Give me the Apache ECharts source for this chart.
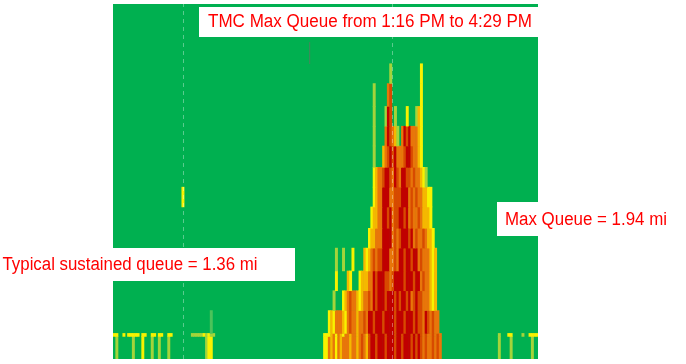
<!DOCTYPE html>
<html><head><meta charset="utf-8">
<script src="https://cdn.jsdelivr.net/npm/echarts/dist/echarts.min.js"></script>
<style>html,body{margin:0;padding:0;background:#fff}#c{width:686px;height:364px}</style>
</head><body><div id="c"></div>
<script>
// time axis in minutes after midnight (7:15 AM .. 7:15 PM), 4-minute bins
const timeStart = 435;
const timeEnd = 1155;
const binMinutes = 4;
// TMC segment boundaries (miles from the bottleneck)
const segmentBounds = [0, 0.15, 0.17, 0.32, 0.45, 0.58, 0.73, 0.86, 1.00, 1.13, 1.26, 1.40, 1.53, 1.66, 1.81, 1.94, 2.08, 2.21, 2.33];
// congestion level per time bin: [first bin, codes]; 1 slowest (red) .. 6 near free flow, 7 slight slowdown, 8 missing data
const seg00 = [[1,"6"],[8,"6"],[12,"5"],[16,"6"],[19,"6"],[23,"6"],[39,"655"],[89,"55"],[91,"3435343334"],[101,"3343234"],[108,"2112111211"],[118,"1211211121"],[128,"21"],[130,"232332323"],[163,"6"],[168,"6"],[177,"6"]];
const seg01 = [[0,"55"],[4,"5"],[6,"555"],[9,"55"],[12,"55"],[16,"55"],[19,"55"],[23,"55"],[33,"66666"],[38,"5656"],[42,"6"],[89,"55"],[91,"5435345334"],[101,"3343234"],[108,"2112111211"],[118,"1211211121"],[128,"21"],[130,"232332323"],[163,"6"],[167,"55"],[173,"6"],[176,"5555"]];
const seg02 = [[41,"7"],[91,"545"],[94,"333"],[97,"45"],[99,"323343323"],[108,"1121112111"],[118,"1211121112"],[128,"12"],[130,"2312323"],[137,"3"]];
const seg03 = [[93,"6"],[97,"54"],[99,"3233"],[103,"4543"],[107,"323"],[110,"1211121112"],[120,"1211213212"],[130,"23"],[132,"33454"]];
const seg04 = [[94,"5"],[99,"45"],[104,"5444"],[108,"33"],[110,"121112"],[116,"2321"],[120,"1112111211"],[130,"3233"],[134,"454"]];
const seg05 = [[94,"6"],[97,"6"],[101,"5"],[106,"454"],[109,"32322"],[114,"111"],[117,"3323"],[121,"11211211"],[129,"3233"],[133,"3454"]];
const seg06 = [[108,"54"],[110,"4333"],[114,"1111"],[118,"323"],[121,"211121"],[127,"32332"],[132,"34"],[134,"45"]];
const seg07 = [[109,"544"],[112,"33"],[114,"1121"],[118,"32"],[120,"2112"],[124,"1323"],[128,"3234"],[132,"445"]];
const seg08 = [[29,"5"],[110,"54"],[112,"33"],[114,"111"],[117,"33"],[119,"222"],[122,"111"],[125,"32323"],[130,"34"],[132,"455"]];
const seg09 = [[110,"5433"],[114,"2112312"],[121,"3112232"],[128,"3345"],[132,"6"]];
const seg10 = [[110,"6"],[114,"4321213"],[121,"3321123"],[128,"345"]];
const seg11 = [[110,"6"],[115,"312346"],[122,"31213"],[127,"3345"]];
const seg12 = [[110,"6"],[115,"612"],[119,"6"],[124,"5"],[128,"6"],[129,"45"]];
const seg13 = [[110,"6"],[116,"32"],[130,"5"]];
const seg14 = [[117,"6"],[130,"5"]];
const seg15 = [[83,"8"]];
const seg16 = [];
const seg17 = [];
const levelColors = ['#C00000', '#D84A00', '#E8760A', '#F5B800', '#F8F200', '#A4D43A', '#4CC35A', '#3E8A5A'];
const dashedTimes = [554, 908];
const titleText = 'TMC Max Queue from 1:16 PM to 4:29 PM';
const maxQueueText = 'Max Queue = 1.94 mi';
const typicalText = 'Typical sustained queue = 1.36 mi';

const segments = [seg00, seg01, seg02, seg03, seg04, seg05, seg06, seg07, seg08, seg09, seg10, seg11, seg12, seg13, seg14, seg15, seg16, seg17];
const cells = [];
segments.forEach((runs, r) => {
  runs.forEach(([start, codes]) => {
    for (let k = 0; k < codes.length; k++) {
      const c = codes[k];
      if (c === '.') continue;
      const j = start + k;
      cells.push([timeStart + j * binMinutes, timeStart + (j + 1) * binMinutes, segmentBounds[r], segmentBounds[r + 1], +c]);
    }
  });
});
const yMax = segmentBounds[segmentBounds.length - 1];

const FONT = "18px 'Liberation Sans', Arial, sans-serif";
const mctx = document.createElement('canvas').getContext('2d');
mctx.font = FONT;
function fit(text, target) { return target / mctx.measureText(text).width; }

function label(text, cx, cy, targetWidth, align) {
  return {type: 'text', x: cx, y: cy, scaleX: fit(text, targetWidth), z: 101,
    style: {text: text, fill: '#FF0000', font: FONT, textAlign: align, textVerticalAlign: 'middle'}};
}

const chart = echarts.init(document.getElementById('c'), null, {renderer: 'canvas'});
chart.setOption({
  animation: false,
  backgroundColor: '#ffffff',
  grid: {left: 113, top: 4, width: 425, height: 355, show: true, backgroundColor: '#00B050', borderWidth: 0},
  xAxis: {type: 'value', min: timeStart, max: timeEnd, show: false},
  yAxis: {type: 'value', min: 0, max: yMax, show: false},
  visualMap: {
    type: 'piecewise', show: false, dimension: 4, seriesIndex: 0,
    pieces: levelColors.map((col, i) => ({value: i + 1, color: col}))
  },
  series: [
    {
      type: 'custom', clip: true, data: cells,
      encode: {x: [0, 1], y: [2, 3]},
      renderItem: function (params, api) {
        const p0 = api.coord([api.value(0), api.value(3)]);
        const p1 = api.coord([api.value(1), api.value(2)]);
        const narrow = api.value(4) === 8;
        const w = narrow ? 1.2 : p1[0] - p0[0] + 0.6;
        return {type: 'rect', shape: {x: p0[0], y: p0[1], width: w, height: p1[1] - p0[1] + 0.6},
          style: {fill: api.visual('color')}};
      }
    },
    {
      type: 'custom', clip: true, data: dashedTimes.map(t => [t]),
      encode: {x: 0},
      renderItem: function (params, api) {
        const a = api.coord([api.value(0), 0]);
        const b = api.coord([api.value(0), yMax]);
        const x = Math.round(a[0]) + 0.5;
        return {type: 'line', shape: {x1: x, y1: a[1], x2: x, y2: b[1]},
          style: {stroke: 'rgba(255,255,255,0.35)', lineWidth: 1, lineDash: [4, 4]}};
      }
    }
  ],
  graphic: [
    {type: 'rect', left: 199, top: 7, shape: {width: 339, height: 30}, style: {fill: '#ffffff'}, z: 100},
    label(titleText, 370, 22, 324, 'center'),
    {type: 'rect', left: 497, top: 202, shape: {width: 189, height: 34}, style: {fill: '#ffffff'}, z: 100},
    label(maxQueueText, 586, 220, 162, 'center'),
    {type: 'rect', left: 0, top: 248, shape: {width: 295, height: 33}, style: {fill: '#ffffff'}, z: 100},
    label(typicalText, 130, 265, 255, 'center')
  ]
});
</script>
</body></html>
